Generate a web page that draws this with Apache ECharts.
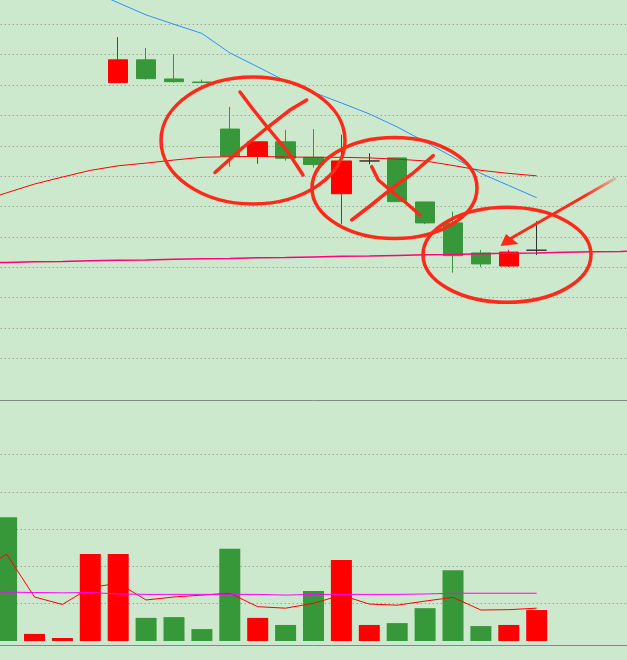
<!DOCTYPE html>
<html>
<head>
<meta charset="utf-8">
<script src="https://cdn.jsdelivr.net/npm/echarts@6/dist/echarts.min.js"></script>
<style>
  html, body { margin: 0; padding: 0; background: #cde9cd; }
  #main { width: 627px; height: 660px; }
</style>
</head>
<body>
<div id="main"></div>
<script>
// trading days (no labels shown on the chart)
const days = ['d01', 'd02', 'd03', 'd04', 'd05', 'd06', 'd07', 'd08', 'd09', 'd10',
  'd11', 'd12', 'd13', 'd14', 'd15', 'd16', 'd17', 'd18', 'd19', 'd20',
  'd21', 'd22', 'd23', 'd24', 'd25'];

// [open, close, low, high]
const candles = ['-', '-', '-', '-', '-',
  [10.08, 10.83, 10.08, 11.58],
  [10.83, 10.21, 10.18, 11.22],
  [10.20, 10.11, 10.08, 11.02],
  [10.10, 10.08, 10.08, 10.18],
  [8.55, 7.66, 7.31, 9.28],
  [7.66, 8.13, 7.41, 8.13],
  [8.13, 7.59, 7.51, 8.52],
  [7.62, 7.38, 7.28, 8.55],
  [6.42, 7.50, 5.42, 8.36],
  [7.50, 7.50, 7.39, 7.75],
  [7.60, 6.16, 6.16, 7.60],
  [6.15, 5.46, 5.42, 6.15],
  [5.46, 4.38, 3.82, 5.83],
  [4.47, 4.11, 4.01, 4.57],
  [4.04, 4.50, 4.01, 4.57],
  [4.56, 4.56, 4.40, 5.52],
  '-', '-', '-', '-'];

// moving averages on the price panel
const maBlue = ['-', '-', '-', '-', 13.11, 12.71, 12.31, 12.00, 11.70, 11.06, 10.60, 10.13,
  9.76, 9.41, 9.05, 8.62, 8.13, 7.63, 7.09, 6.69, 6.29];
const maRed = [6.15, 6.45, 6.74, 6.97, 7.19, 7.34, 7.43, 7.53, 7.62, 7.64, 7.65, 7.63,
  7.62, 7.62, 7.60, 7.56, 7.50, 7.35, 7.19, 7.09, 7.01];
const maPink = [4.14, 4.16, 4.18, 4.19, 4.21, 4.23, 4.24, 4.26, 4.28, 4.29, 4.31, 4.32,
  4.34, 4.36, 4.37, 4.39, 4.41, 4.42, 4.44, 4.46, 4.47, 4.49, 4.51, 4.52, 4.54];

// volume (1 = up day, -1 = down day)
const volumes = ['-', 3.32, 0.19, 0.08, 2.33, 2.33, 0.62, 0.64, 0.32, 2.47, 0.62, 0.43,
  1.34, 2.17, 0.43, 0.48, 0.88, 1.90, 0.40, 0.43, 0.83];
const volDir = [0, -1, 1, 1, 1, 1, -1, -1, -1, -1, 1, -1, -1, 1, 1, -1, -1, -1, -1, 1, 1];
const volMaRed = [1.85, 2.33, 1.18, 0.98, 1.43, 1.55, 1.10, 1.18, 1.23, 1.28, 0.92, 0.88,
  1.01, 1.23, 0.99, 0.96, 1.07, 1.17, 0.83, 0.84, 0.88];
const volMaPink = [1.31, 1.31, 1.30, 1.29, 1.30, 1.26, 1.25, 1.25, 1.25, 1.25, 1.25, 1.23,
  1.25, 1.25, 1.25, 1.25, 1.26, 1.28, 1.28, 1.28, 1.28];

const upColor = '#ff0000';
const downColor = '#379839';
const gridDots = { color: '#858585', width: 1, type: [1, 3] };
const ink = '#ff2a1a';

const chart = echarts.init(document.getElementById('main'));

const hiddenAxis = { axisTick: { show: false }, axisLabel: { show: false } };

const option = {
  animation: false,
  backgroundColor: '#cde9cd',
  grid: [
    { left: -35.25, right: -35.25, top: -6.06, bottom: 271.3, outerBoundsMode: 'none', containLabel: false },
    { left: -35.25, right: -35.25, top: 454.5, bottom: 19, outerBoundsMode: 'none', containLabel: false }
  ],
  xAxis: [
    {
      type: 'category', gridIndex: 0, data: days, boundaryGap: true, offset: 11.3,
      axisLine: { show: true, onZero: false, lineStyle: { color: '#888', width: 1 } },
      splitLine: { show: false }, ...hiddenAxis
    },
    {
      type: 'category', gridIndex: 1, data: days, boundaryGap: true, offset: 4,
      axisLine: { show: true, onZero: false, lineStyle: { color: '#888', width: 1 } },
      splitLine: { show: false }, ...hiddenAxis
    }
  ],
  yAxis: [
    {
      type: 'value', gridIndex: 0, min: 0, max: 13, interval: 1,
      axisLine: { show: false },
      splitLine: { show: true, showMinLine: false, showMaxLine: false, lineStyle: gridDots },
      ...hiddenAxis
    },
    {
      type: 'value', gridIndex: 1, min: 0, max: 5, interval: 1,
      axisLine: { show: false },
      splitLine: { show: true, showMinLine: false, lineStyle: gridDots },
      ...hiddenAxis
    }
  ],
  series: [
    {
      type: 'candlestick', xAxisIndex: 0, yAxisIndex: 0,
      data: candles, barWidth: 20,
      itemStyle: {
        color: upColor, color0: downColor,
        borderColor: upColor, borderColor0: downColor,
        borderColorDoji: '#333', borderWidth: 1
      }
    },
    {
      type: 'line', xAxisIndex: 0, yAxisIndex: 0, data: maBlue,
      showSymbol: false, lineStyle: { color: '#2f8ff5', width: 1 }
    },
    {
      type: 'line', xAxisIndex: 0, yAxisIndex: 0, data: maRed,
      showSymbol: false, lineStyle: { color: '#ff0000', width: 1 }
    },
    {
      type: 'line', xAxisIndex: 0, yAxisIndex: 0, data: maPink,
      showSymbol: false, lineStyle: { color: '#ff0080', width: 1.5 }
    },
    {
      type: 'bar', xAxisIndex: 1, yAxisIndex: 1, barWidth: 21,
      data: volumes.map((v, i) => ({
        value: v,
        itemStyle: { color: volDir[i] > 0 ? upColor : downColor }
      }))
    },
    {
      type: 'line', xAxisIndex: 1, yAxisIndex: 1, data: volMaRed,
      showSymbol: false, lineStyle: { color: '#ff0000', width: 1 }
    },
    {
      type: 'line', xAxisIndex: 1, yAxisIndex: 1, data: volMaPink,
      showSymbol: false, lineStyle: { color: '#ff00ff', width: 1 }
    }
  ],
  // hand-drawn markup over the chart
  graphic: [
    { type: 'ellipse', z: 100, shape: { cx: 253, cy: 140.5, rx: 92, ry: 63.5 },
      style: { fill: 'none', stroke: ink, lineWidth: 3.5 } },
    { type: 'ellipse', z: 100, shape: { cx: 394.5, cy: 188, rx: 82.5, ry: 50.5 },
      style: { fill: 'none', stroke: ink, lineWidth: 3.5 } },
    { type: 'ellipse', z: 100, shape: { cx: 507, cy: 254.8, rx: 84, ry: 47.5 },
      style: { fill: 'none', stroke: ink, lineWidth: 3.5 } },
    { type: 'polyline', z: 100,
      shape: { points: [[240, 92], [252, 108], [268, 128], [288, 152], [303, 175]] },
      style: { fill: 'none', stroke: ink, lineWidth: 3.5, lineCap: 'round' } },
    { type: 'polyline', z: 100,
      shape: { points: [[215, 172.5], [240, 150], [268, 127], [290, 110], [306.7, 100]] },
      style: { fill: 'none', stroke: ink, lineWidth: 3.5, lineCap: 'round' } },
    { type: 'polyline', z: 100,
      shape: { points: [[371.7, 166.7], [378.3, 180], [390, 190], [405, 202], [420, 215]] },
      style: { fill: 'none', stroke: ink, lineWidth: 3.5, lineCap: 'round' } },
    { type: 'polyline', z: 100,
      shape: { points: [[351.7, 220], [370, 206], [390, 190], [412, 174], [433.3, 155.7]] },
      style: { fill: 'none', stroke: ink, lineWidth: 3.5, lineCap: 'round' } },
    { type: 'line', z: 100,
      shape: { x1: 616, y1: 178, x2: 508, y2: 240 },
      style: {
        stroke: new echarts.graphic.LinearGradient(1, 0, 0, 1, [
          { offset: 0, color: 'rgba(255,42,26,0.15)' },
          { offset: 0.3, color: ink },
          { offset: 1, color: ink }
        ]),
        lineWidth: 3
      } },
    { type: 'polygon', z: 100,
      shape: { points: [[500.5, 246], [506, 234], [518.5, 244]] },
      style: { fill: ink } }
  ]
};

chart.setOption(option);
</script>
</body>
</html>
